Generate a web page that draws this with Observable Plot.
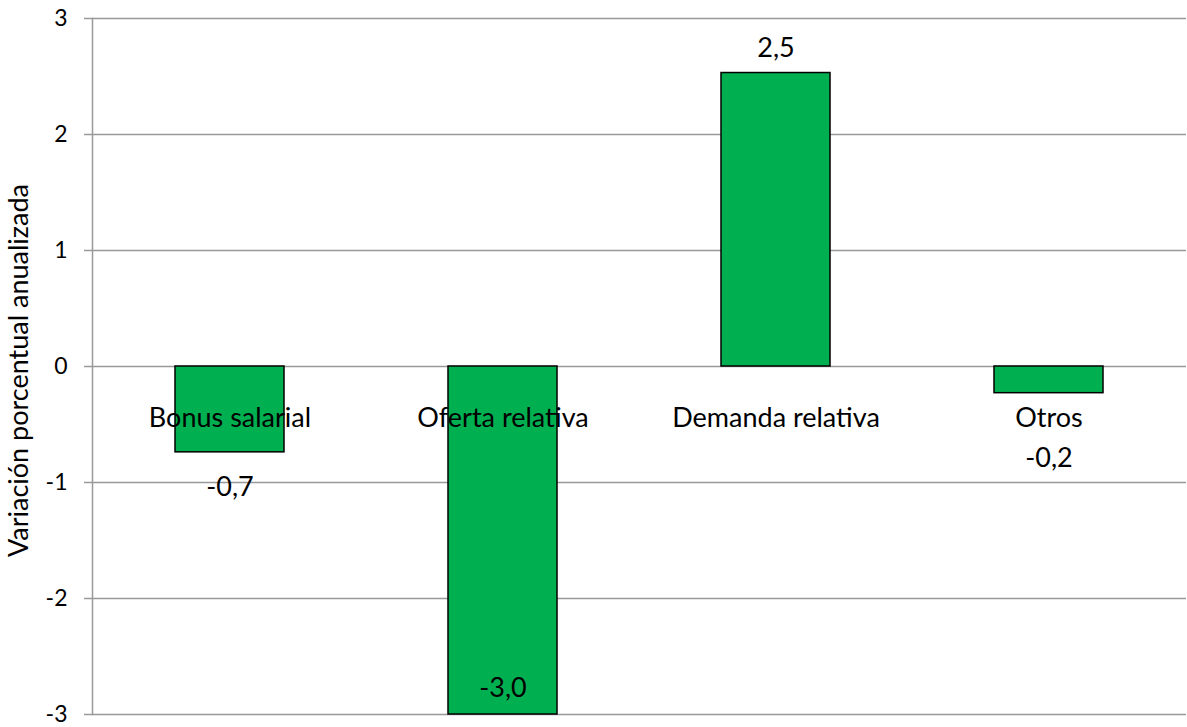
<!DOCTYPE html>
<html>
<head>
<meta charset="utf-8">
<script src="https://cdn.jsdelivr.net/npm/d3@7"></script>
<script src="https://cdn.jsdelivr.net/npm/@observablehq/plot@0.6"></script>
<style>
  html, body { margin: 0; padding: 0; background: #fff; }
  #chart svg { display: block; }
</style>
</head>
<body>
<div id="chart"></div>
<script>
// Descomposición de la variación del bonus salarial
const categorias = ["Bonus salarial", "Oferta relativa", "Demanda relativa", "Otros"];
const valores = [-0.74, -3.0, 2.53, -0.23];
const yTicks = [-3, -2, -1, 0, 1, 2, 3];
const yTitulo = "Variación porcentual anualizada";

const datos = categorias.map((c, i) => ({categoria: c, valor: valores[i]}));
const fmt = v => v.toFixed(1).replace(".", ",");
const font = "Lato, 'Open Sans', sans-serif";
const labelSize = 27;

// value labels: above positive bars, below negative bars (clear of the
// category label), inside the bar when it reaches the bottom of the frame
const etiquetas = datos.map(d => {
  const yPx = v => 116 * -v; // pixels per unit along the y scale
  let dy;
  if (d.valor >= 0) dy = -25;
  else if (d.valor <= yTicks[0]) dy = -26;
  else dy = Math.max(yPx(d.valor) + 35, 92) - yPx(d.valor);
  return Plot.text([d], {x: "categoria", y: "valor", text: d => fmt(d.valor), dy, fill: "#000", fontSize: labelSize});
});

const chart = Plot.plot({
  width: 1187,
  height: 727,
  marginLeft: 92,
  marginRight: 1,
  marginTop: 18,
  marginBottom: 13,
  style: {fontFamily: font, fontSize: "23px", color: "#000", background: "#fff"},
  x: {domain: categorias, paddingInner: 0.6, paddingOuter: 0.3, axis: null},
  y: {domain: [-3, 3], axis: null},
  marks: [
    Plot.ruleY(yTicks, {stroke: "#999", strokeWidth: 1.5}),
    Plot.axisY({ticks: yTicks, tickFormat: d => String(d), tickSize: 8, tickPadding: 17, stroke: "#999", strokeWidth: 1.5, label: null, fontSize: 23}),
    Plot.frame({anchor: "left", stroke: "#999", strokeWidth: 1.5}),
    Plot.barY(datos, {x: "categoria", y: "valor", fill: "#00B050", stroke: "#000", strokeWidth: 1.5}),
    Plot.text(datos, {x: "categoria", y: () => 0, text: "categoria", dy: 52, fill: "#000", fontSize: labelSize}),
    ...etiquetas,
    Plot.text([yTitulo], {frameAnchor: "left", textAnchor: "middle", rotate: -90, dx: -73, dy: 4, fill: "#000", fontSize: labelSize})
  ]
});

document.getElementById("chart").appendChild(chart);
</script>
</body>
</html>
